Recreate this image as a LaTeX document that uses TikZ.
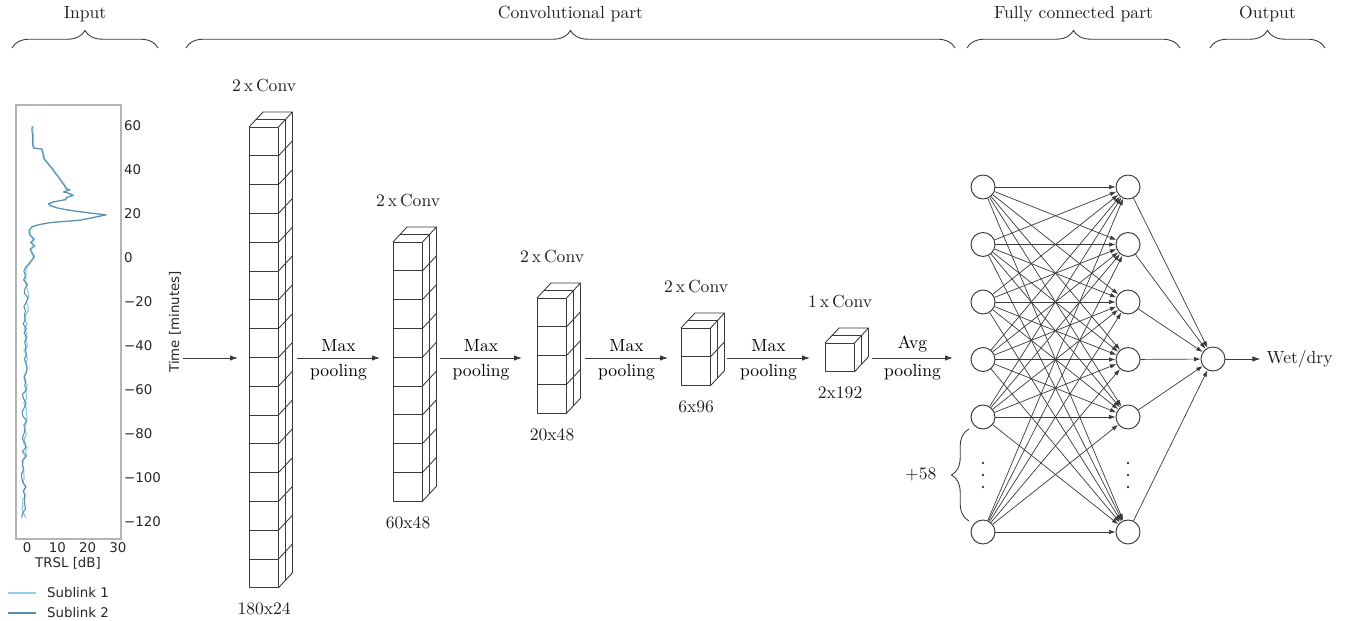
\documentclass[tikz,border=0pt]{standalone}
\usepackage{fontspec}
\newfontfamily\plotfont{DejaVu Sans}
\usetikzlibrary{arrows.meta,decorations.pathreplacing,positioning}
\definecolor{ink}{HTML}{1E1E1E}
\definecolor{edgegray}{HTML}{3A3A3A}
\definecolor{spinegray}{HTML}{B4B4B4}
\definecolor{sublinkone}{HTML}{8ED1E8}
\definecolor{sublinktwo}{HTML}{5E8DAA}
\def\blkw{29.5}
\def\blkh{28.8}
\def\blkdx{14}
\def\blkdy{15}
\tikzset{
  blockline/.style={draw=edgegray, line width=0.5pt, line join=round},
  blockface/.style={draw=none, anchor=north west, inner sep=0pt,
    minimum width=0.59cm},
  convlabel/.style={text=ink, inner sep=2pt},
  flow/.style={
    -{Latex[length=1.6mm,width=1.1mm]},
    draw=edgegray,
    line width=0.55pt
  },
  synapse/.style={
    -{Latex[length=1.3mm,width=0.9mm]},
    draw=edgegray,
    line width=0.4pt
  },
  neuron/.style={circle, draw=edgegray, fill=white, line width=0.55pt,
    minimum size=0.48cm, inner sep=0pt},
  partbrace/.style={
    decorate,
    decoration={brace,amplitude=10pt},
    draw=edgegray,
    line width=0.5pt
  },
  partlabel/.style={text=ink},
  spine/.style={draw=spinegray, line width=0.7pt},
  plottext/.style={font=\plotfont\fontsize{7.6}{9}\selectfont, text=black!85},
  linkonecurve/.style={draw=sublinkone, line width=0.7pt, line join=round, xshift=0.5pt},
  linktwocurve/.style={draw=sublinktwo, line width=0.6pt, line join=round}
}
% one convolution stack: front column of cells plus top and side faces
\newcommand{\convblock}[3]{%
  \node[blockface, minimum height=#3*\blkh*0.02cm] (#1) at #2 {};
  \begin{scope}[shift={(#1.north west)}]
    \foreach \k in {1,...,#3} {
      \draw[blockline] (0,{(\k-1)*\blkh}) rectangle (\blkw,{\k*\blkh});
      \draw[blockline] (\blkw,{\k*\blkh}) -- ++(\blkdx,-\blkdy);
    }
    \draw[blockline] (0,0) -- ++(\blkdx,-\blkdy) -- ++(\blkw,0) -- (\blkw,0);
    \draw[blockline] ({\blkdx/2},{-\blkdy/2}) -- ++(\blkw,0);
    \draw[blockline] ({\blkw+\blkdx},-\blkdy) -- ++(0,{#3*\blkh});
    \draw[blockline] ({\blkw+\blkdx/2},{-\blkdy/2}) -- ++(0,{#3*\blkh});
  \end{scope}
}

\begin{document}
\begin{tikzpicture}[x=0.02cm,y=-0.02cm]
  \useasboundingbox (0,0) rectangle (1346,621);

  % Section braces along the top.
  \draw[partbrace] (12,48) -- (158,48)
    node[midway,above=11pt,partlabel] (inputlbl) {Input};
  \draw[partbrace] (186,48) -- (955,48)
    node[midway,above=11pt,partlabel] (convlbl) {Convolutional part};
  \draw[partbrace] (967,48) -- (1180,48)
    node[midway,above=11pt,partlabel] (fclbl) {Fully connected part};
  \draw[partbrace] (1210,48) -- (1325,48)
    node[midway,above=11pt,partlabel] (outlbl) {Output};

  % Input: TRSL time series of the two sublinks.
  \draw[spine] (16,105) rectangle (121,539);
  \begin{scope}[shift={(27,258)},x=0.0606cm,y=0.044cm]
    \pgfmathsetseed{11}
    \draw[linkonecurve] plot coordinates {(1.7,60) (1.6,58) (1.9,55) (1.8,52) (2.1,50)
      (4.8,49.5) (5.2,47.5) (5.6,45) (6.8,43) (8.0,41) (8.8,39.5) (9.6,38) (10.5,36.5)
      (11.2,35) (12.3,33) (12.9,31.5) (14.0,31) (12.0,30) (13.5,29.5) (15.2,28.5)
      (13.0,27.5) (12.6,26.5) (10.5,26) (8.6,25.5) (7.0,24.6) (7.6,23.8) (9.8,22.8)
      (12.6,22.0) (16.5,21.2) (21.0,20.4) (26.0,19.6) (22.5,18.6) (17.5,17.2)
      (12.0,16.6) (7.6,16.1) (4.0,15.2) (1.6,14.2) (0.6,12.5) (0.9,10.5) (2.2,8.5)
      (1.2,7) (2.4,5.5) (1.0,4) (1.6,2.2) (2.3,0.5) (1.2,-1.5) (0.4,-3)}
      -- plot[domain=-4:-118,samples=58] ({-0.3+0.0076*\x+0.8*rand},\x);
    \pgfmathsetseed{5}
    \draw[linktwocurve] plot coordinates {(1.7,60) (1.6,58) (1.9,55) (1.8,52) (2.1,50)
      (4.8,49.5) (5.2,47.5) (5.6,45) (6.8,43) (8.0,41) (8.8,39.5) (9.6,38) (10.5,36.5)
      (11.2,35) (12.3,33) (12.9,31.5) (14.0,31) (12.0,30) (13.5,29.5) (15.2,28.5)
      (13.0,27.5) (12.6,26.5) (10.5,26) (8.6,25.5) (7.0,24.6) (7.6,23.8) (9.8,22.8)
      (12.6,22.0) (16.5,21.2) (21.0,20.4) (26.0,19.6) (22.5,18.6) (17.5,17.2)
      (12.0,16.6) (7.6,16.1) (4.0,15.2) (1.6,14.2) (0.6,12.5) (0.9,10.5) (2.2,8.5)
      (1.2,7) (2.4,5.5) (1.0,4) (1.6,2.2) (2.3,0.5) (1.2,-1.5) (0.4,-3)}
      -- plot[domain=-4:-118,samples=58] ({-0.3+0.0076*\x+0.8*rand},\x);
  \end{scope}

  \foreach \t/\lab in {60/60,40/40,20/20,0/0,-20/−20,-40/−40,-60/−60,-80/−80,-100/−100,-120/−120}
    \node[plottext,anchor=west,inner sep=1pt] (ytick\t) at (122,{258-2.2*\t}) {\lab};
  \foreach \v in {0,10,20,30}
    \node[plottext,inner sep=1pt] (xtick\v) at ({27+3.03*\v},548) {\v};
  \node[plottext] (xaxislbl) at (68,563) {TRSL [dB]};
  \node[plottext,rotate=90] (yaxislbl) at (175,322) {Time [minutes]};

  \draw[draw=sublinkone,line width=0.7pt] (8,593) -- (36,593);
  \node[plottext,anchor=west,inner sep=1pt] (legone) at (45,593) {Sublink 1};
  \draw[draw=sublinktwo,line width=0.6pt] (8,613) -- (36,613);
  \node[plottext,anchor=west,inner sep=1pt] (legtwo) at (45,613) {Sublink 2};

  % Convolutional stacks.
  \convblock{conv1}{(249,127)}{16}
  \convblock{conv2}{(393,242)}{9}
  \convblock{conv3}{(537,298)}{4}
  \convblock{conv4}{(681,328)}{2}
  \convblock{conv5}{(825,343)}{1}

  \node[convlabel,above=0.63cm of conv1] (conv1top) {2\,x\,Conv};
  \node[convlabel,above=0.63cm of conv2] (conv2top) {2\,x\,Conv};
  \node[convlabel,above=0.63cm of conv3] (conv3top) {2\,x\,Conv};
  \node[convlabel,above=0.63cm of conv4] (conv4top) {2\,x\,Conv};
  \node[convlabel,above=0.63cm of conv5] (conv5top) {1\,x\,Conv};

  \node[convlabel,below=0.21cm of conv1] (conv1dim) {180x24};
  \node[convlabel,below=0.21cm of conv2] (conv2dim) {60x48};
  \node[convlabel,below=0.21cm of conv3] (conv3dim) {20x48};
  \node[convlabel,below=0.21cm of conv4] (conv4dim) {6x96};
  \node[convlabel,below=0.21cm of conv5] (conv5dim) {2x192};

  \coordinate (inA) at (183,358);  \coordinate (inB) at (238,358);
  \coordinate (mp1A) at (297,358); \coordinate (mp1B) at (380,358);
  \coordinate (mp2A) at (440,358); \coordinate (mp2B) at (522,358);
  \coordinate (mp3A) at (585,358); \coordinate (mp3B) at (668,358);
  \coordinate (mp4A) at (727,358); \coordinate (mp4B) at (810,358);
  \coordinate (avgA) at (872,358); \coordinate (avgB) at (953,358);

  \draw[flow] (inA) -- (inB);
  \draw[flow] (mp1A) -- node[above] (mp1top) {Max} node[below] (mp1bot) {pooling} (mp1B);
  \draw[flow] (mp2A) -- node[above] (mp2top) {Max} node[below] (mp2bot) {pooling} (mp2B);
  \draw[flow] (mp3A) -- node[above] (mp3top) {Max} node[below] (mp3bot) {pooling} (mp3B);
  \draw[flow] (mp4A) -- node[above] (mp4top) {Max} node[below] (mp4bot) {pooling} (mp4B);
  \draw[flow] (avgA) -- node[above] (avgtop) {Avg} node[below] (avgbot) {pooling} (avgB);

  % Fully connected layers.
  \foreach \i in {1,2,3,4,5,7} {
    \node[neuron] (l\i) at (983,{187+57.5*(\i-1)}) {};
    \node[neuron] (r\i) at (1128,{187+57.5*(\i-1)}) {};
  }
  \node[neuron] (out) at (1213,359) {};

  \foreach \i in {1,2,3,4,5,7}
    \foreach \j in {1,2,3,4,5,7}
      \draw[synapse] (l\i) -- (r\j);
  \foreach \j in {1,2,3,4,5,7}
    \draw[synapse] (r\j) -- (out);

  \foreach \x in {983,1128}
    \foreach \k in {0,1,2}
      \fill[edgegray] (\x,{463+12*\k}) circle (1.4);

  \draw[partbrace] (969,521) -- (969,429)
    node[midway,left=15pt,partlabel] (extra) {$+58$};

  \node[right=0.7cm of out,text=ink] (wetdry) {Wet/dry};
  \draw[flow] (out) -- (wetdry);

\end{tikzpicture}
\end{document}
